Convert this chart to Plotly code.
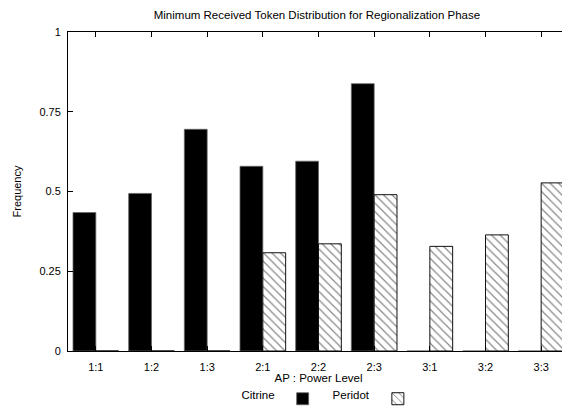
import plotly.graph_objects as go

categories = ["1:1", "1:2", "1:3", "2:1", "2:2", "2:3", "3:1", "3:2", "3:3"]
citrine = [0.434, 0.494, 0.695, 0.579, 0.595, 0.838, 0, 0, 0]
peridot = [0, 0, 0, 0.308, 0.336, 0.490, 0.328, 0.364, 0.527]
y_ticks = [0, 0.25, 0.5, 0.75, 1]
y_tick_labels = ["0", "0.25", "0.5", "0.75", "1"]

FONT = "Liberation Sans, Arial, sans-serif"

fig = go.Figure()
fig.add_trace(go.Bar(
    x=categories, y=citrine, name=" ", showlegend=True,
    marker=dict(color="black", line=dict(color="#666", width=0.8)),
    legend="legend",
))
fig.add_trace(go.Bar(
    x=categories, y=peridot, name=" ", showlegend=True,
    marker=dict(color="white", line=dict(color="#111", width=1),
                pattern=dict(shape="\\", fgcolor="#111", bgcolor="white", size=6, solidity=0.2)),
    legend="legend2",
))

# the page body adds an 8px offset, so the figure is laid out 8px up/left
fig.update_layout(
    width=570, height=407, showlegend=True,
    margin=dict(l=60, r=9, t=24, b=64, autoexpand=False),
    paper_bgcolor="white", plot_bgcolor="white",
    font=dict(family=FONT, size=11, color="black"),
    barmode="group", bargap=0.18, bargroupgap=0,
    title=dict(text="Minimum Received Token Distribution for Regionalization Phase",
               x=0.542, xanchor="center", y=0.982, yanchor="middle",
               font=dict(size=11.5)),
    xaxis=dict(
        type="category", range=[-0.5, 8.5], automargin=True,
        showline=True, linecolor="black", linewidth=1, mirror="ticks",
        ticks="inside", ticklen=5, tickcolor="black",
        showgrid=False, zeroline=False,
        tickfont=dict(size=11), ticklabelstandoff=6,
        title=dict(text="AP : Power Level", standoff=9, font=dict(size=11.5)),
    ),
    yaxis=dict(
        range=[0, 1], tickvals=y_ticks, ticktext=y_tick_labels, automargin=False,
        showline=True, linecolor="black", linewidth=1, mirror="ticks",
        ticks="inside", ticklen=5, tickcolor="black",
        showgrid=False, zeroline=False,
        tickfont=dict(size=11), ticklabelstandoff=4,
        title=dict(text="Frequency", font=dict(size=11)),
    ),
    legend=dict(
        orientation="h", xref="container", yref="container",
        x=0.406, xanchor="left", y=0.040, yanchor="middle",
        title=dict(text="Citrine", side="left", font=dict(size=11.5)),
        bgcolor="rgba(0,0,0,0)", itemwidth=30,
    ),
    legend2=dict(
        orientation="h", xref="container", yref="container",
        x=0.566, xanchor="left", y=0.040, yanchor="middle",
        title=dict(text="Peridot", side="left", font=dict(size=11.5)),
        bgcolor="rgba(0,0,0,0)", itemwidth=30,
    ),
)

fig.write_html("out.html")
